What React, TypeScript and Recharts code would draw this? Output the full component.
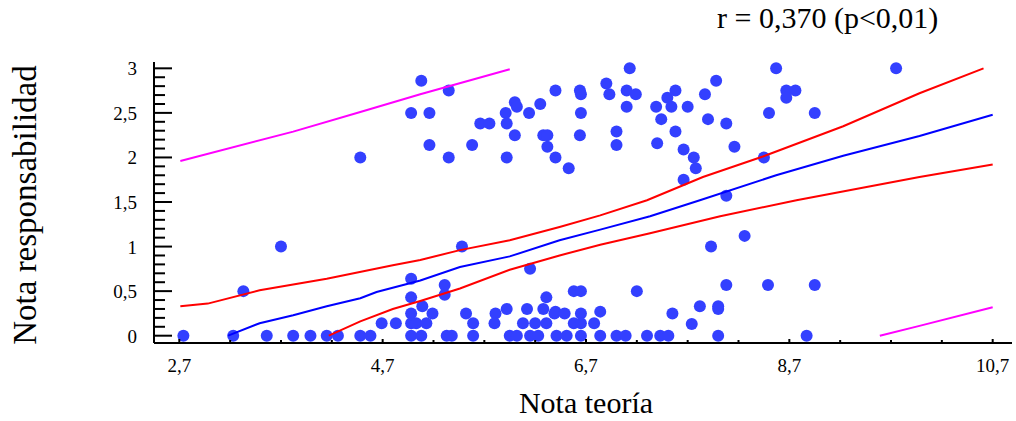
import { ScatterChart, Scatter, XAxis, YAxis, Label } from 'recharts'

// Nota teoría / Nota responsabilidad
const puntos: [number, number][] = [
  [2.74, 0], [3.23, 0], [3.33, 0.5], [3.56, 0], [3.7, 1.0], [3.82, 0], [3.99, 0], [4.15, 0], [4.26, 0],
  [4.48, 2.0], [4.48, 0], [4.58, 0], [4.69, 0.14], [4.83, 0.14],
  [4.98, 2.5], [4.98, 0.64], [4.98, 0.43], [4.98, 0.25], [4.98, 0.14], [4.98, 0],
  [5.08, 2.86], [5.35, 2.75], [5.16, 2.5], [5.66, 2.38], [5.75, 2.38], [5.91, 2.5], [6.0, 2.62], [6.02, 2.57],
  [5.92, 2.38], [6.0, 2.25], [5.16, 2.14], [5.58, 2.14], [5.35, 2.0], [5.92, 2.0], [6.14, 2.5], [6.25, 2.6],
  [6.28, 2.25], [6.32, 2.25], [6.32, 2.12], [6.4, 2.75], [6.4, 2.0],
  [7.13, 3.0], [6.64, 2.75], [6.65, 2.71], [6.9, 2.83], [6.93, 2.71], [7.1, 2.75], [7.19, 2.71], [7.1, 2.57],
  [6.65, 2.5], [6.53, 1.88], [6.64, 2.25], [7.0, 2.29], [7.0, 2.14], [7.39, 2.57], [7.5, 2.67], [7.54, 2.57],
  [7.58, 2.75], [7.44, 2.43], [7.7, 2.57], [7.58, 2.29], [7.4, 2.16], [7.87, 2.71], [7.98, 2.86], [7.9, 2.43],
  [7.66, 2.09], [7.76, 2.0], [7.78, 1.88], [7.66, 1.75],
  [8.57, 3.0], [9.75, 3.0], [8.67, 2.75], [8.76, 2.75], [8.67, 2.67], [8.08, 2.38], [8.5, 2.5], [8.95, 2.5],
  [8.16, 2.12], [8.45, 2.0], [8.08, 1.57], [8.26, 1.12], [7.93, 1.0],
  [8.08, 0.57], [8.49, 0.57], [8.95, 0.57], [8.87, 0], [8.0, 0], [7.82, 0.33], [8.0, 0.33], [8.0, 0.3],
  [7.74, 0.13], [7.55, 0.25], [7.2, 0.5], [6.58, 0.5], [6.65, 0.5],
  [5.48, 1.0], [6.15, 0.75], [5.31, 0.57], [5.31, 0.46], [5.09, 0.33], [5.19, 0.25], [5.52, 0.25], [5.81, 0.25],
  [5.92, 0.3], [6.12, 0.3], [6.31, 0.43], [6.28, 0.3], [6.4, 0.27],
  [5.03, 0.14], [5.13, 0.14], [5.59, 0.14], [5.8, 0.14], [6.08, 0.14], [6.2, 0.14], [6.31, 0.14],
  [5.08, 0], [5.33, 0], [5.38, 0], [5.59, 0], [5.95, 0], [6.02, 0], [6.15, 0], [6.23, 0], [6.41, 0],
  [6.39, 0.25], [6.49, 0.25], [6.65, 0.25], [6.84, 0.27], [6.58, 0.14], [6.65, 0.14], [6.78, 0.14],
  [6.51, 0], [6.65, 0], [6.84, 0], [7.0, 0], [7.09, 0], [7.3, 0], [7.43, 0], [7.51, 0],
]

// recta de regresión
const recta: [number, number][] = [
  [3.18, 0], [3.49, 0.14], [3.82, 0.23], [4.15, 0.33], [4.48, 0.42], [4.64, 0.49], [5.07, 0.62],
  [5.46, 0.77], [5.95, 0.89], [6.44, 1.07], [6.84, 1.19], [7.33, 1.34], [7.82, 1.52], [8.57, 1.8],
  [9.23, 2.02], [9.98, 2.24], [10.7, 2.48],
]

// intervalo de confianza
const confSup: [number, number][] = [
  [2.71, 0.33], [2.98, 0.36], [3.49, 0.51], [4.15, 0.64], [4.8, 0.79], [5.07, 0.85], [5.46, 0.96],
  [5.95, 1.07], [6.44, 1.22], [6.84, 1.35], [7.3, 1.52], [7.85, 1.78], [8.44, 2.01], [9.23, 2.35],
  [9.98, 2.72], [10.61, 3.0],
]
const confInf: [number, number][] = [
  [4.17, 0], [4.48, 0.16], [4.8, 0.3], [5.07, 0.39], [5.46, 0.53], [5.95, 0.74], [6.44, 0.9],
  [6.84, 1.02], [7.33, 1.15], [8.02, 1.34], [8.77, 1.52], [9.98, 1.78], [10.7, 1.92],
]

// intervalo de predicción
const predSup: [number, number][] = [
  [2.71, 1.96], [3.82, 2.29], [4.48, 2.51], [5.07, 2.71], [5.95, 2.99],
]
const predInf: [number, number][] = [
  [9.59, 0], [9.98, 0.11], [10.7, 0.32],
]

const xTicks = [2.7, 3.2, 3.7, 4.2, 4.7, 5.2, 5.7, 6.2, 6.7, 7.2, 7.7, 8.2, 8.7, 9.2, 9.7, 10.2, 10.7]
const xLabels = ['2,7', '4,7', '6,7', '8,7', '10,7']
const yTicks = [
  0, 0.1, 0.2, 0.3, 0.4, 0.5, 0.6, 0.7, 0.8, 0.9, 1, 1.1, 1.2, 1.3, 1.4, 1.5, 1.6, 1.7, 1.8, 1.9,
  2, 2.1, 2.2, 2.3, 2.4, 2.5, 2.6, 2.7, 2.8, 2.9, 3,
]
const yLabels = ['0', '0,5', '1', '1,5', '2', '2,5', '3']

const toPts = (arr: [number, number][]) => arr.map(([x, y]) => ({ x, y }))

const font = '"Liberation Serif", "Times New Roman", serif'

const YTick = (props: any) => {
  const { x, y, payload } = props
  const v = payload.value as number
  const label = yLabels.find((l) => Number(l.replace(',', '.')) === v)
  return (
    <g>
      <line x1={x} y1={y} x2={x + (label ? 18 : 11)} y2={y} stroke="#000" strokeWidth={2} />
      {label && (
        <text x={x - 17} y={y} dy={7} textAnchor="end" fontFamily={font} fontSize={19} fill="#000">
          {label}
        </text>
      )}
    </g>
  )
}

const XTick = (props: any) => {
  const { x, y, payload } = props
  const v = payload.value as number
  const label = xLabels.find((l) => Number(l.replace(',', '.')) === v)
  return (
    <g>
      <line x1={x} y1={y} x2={x} y2={y - (label ? 4 : 3)} stroke="#000" strokeWidth={2} />
      {label && (
        <text x={x} y={y + 29} textAnchor="middle" fontFamily={font} fontSize={19} fill="#000">
          {label}
        </text>
      )}
    </g>
  )
}

const noDot = () => <g />

export default function App() {
  return (
    <div style={{ position: 'absolute', left: 0, top: 0, width: 1016, height: 421, background: '#fff' }}>
      <ScatterChart width={1016} height={421} margin={{ top: 62, right: 4, bottom: 0, left: 0 }}>
        <XAxis
          type="number"
          dataKey="x"
          domain={[2.451, 10.89]}
          allowDataOverflow
          ticks={xTicks}
          interval={0}
          tick={<XTick />}
          tickLine={false}
          tickSize={0}
          tickMargin={0}
          height={78}
          axisLine={{ stroke: '#000', strokeWidth: 2 }}
        >
          <Label
            content={() => (
              <text x={586} y={413} textAnchor="middle" fontFamily={font} fontSize={30} fill="#000">
                Nota teoría
              </text>
            )}
          />
        </XAxis>
        <YAxis
          type="number"
          dataKey="y"
          domain={[-0.082, 3.071]}
          allowDataOverflow
          ticks={yTicks}
          interval={0}
          tick={<YTick />}
          tickLine={false}
          tickSize={0}
          tickMargin={0}
          width={154}
          axisLine={{ stroke: '#000', strokeWidth: 2 }}
        >
          <Label
            content={() => (
              <text
                x={36}
                y={205}
                textAnchor="middle"
                transform="rotate(-90, 36, 205)"
                fontFamily={font}
                fontSize={33}
                fill="#000"
              >
                Nota responsabilidad
              </text>
            )}
          />
        </YAxis>
        <Scatter
          data={toPts(puntos)}
          isAnimationActive={false}
          shape={(p: any) => <circle cx={p.cx} cy={p.cy} r={6} fill="#3340ff" />}
        />
        <Scatter data={toPts(recta)} line={{ stroke: '#0000ff', strokeWidth: 2 }} shape={noDot} isAnimationActive={false} />
        <Scatter data={toPts(confSup)} line={{ stroke: '#ff0000', strokeWidth: 2 }} shape={noDot} isAnimationActive={false} />
        <Scatter data={toPts(confInf)} line={{ stroke: '#ff0000', strokeWidth: 2 }} shape={noDot} isAnimationActive={false} />
        <Scatter data={toPts(predSup)} line={{ stroke: '#ff00ff', strokeWidth: 2 }} shape={noDot} isAnimationActive={false} />
        <Scatter data={toPts(predInf)} line={{ stroke: '#ff00ff', strokeWidth: 2 }} shape={noDot} isAnimationActive={false} />
      </ScatterChart>
      <div
        style={{
          position: 'absolute',
          left: 717,
          top: 0,
          fontFamily: font,
          fontSize: 30,
          lineHeight: '36px',
          color: '#000',
          whiteSpace: 'nowrap',
        }}
      >
        r = 0,370 (p&lt;0,01)
      </div>
    </div>
  )
}
